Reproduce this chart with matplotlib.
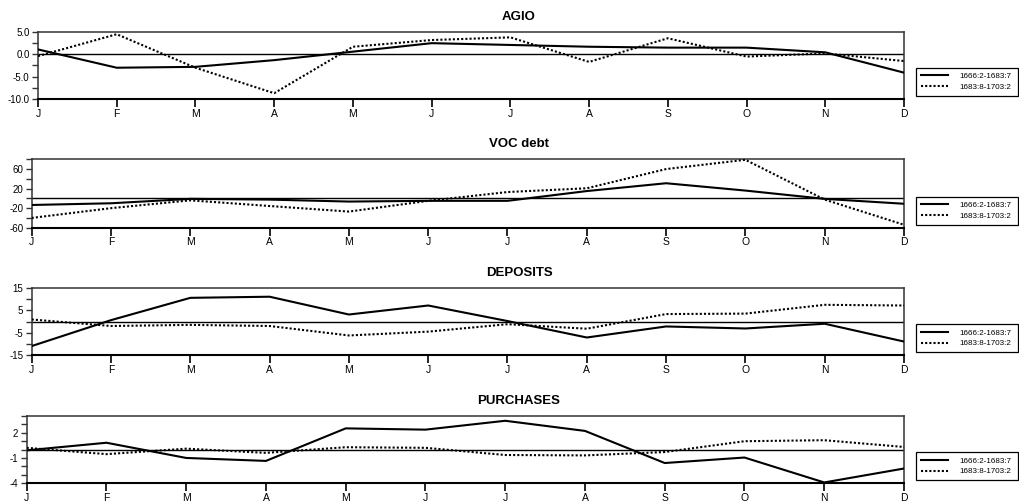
import matplotlib
matplotlib.use("Agg")
import matplotlib.pyplot as plt
from matplotlib import font_manager
from matplotlib.lines import Line2D

months = ["J", "F", "M", "A", "M", "J", "J", "A", "S", "O", "N", "D"]
series_labels = ["1666:2-1683:7", "1683:8-1703:2"]

agio_early = [1.1, -3.0, -2.8, -1.3, 0.6, 2.5, 2.1, 1.7, 1.5, 1.5, 0.45, -4.1]
agio_late = [-0.4, 4.5, -3.0, -8.7, 1.7, 3.2, 3.8, -1.7, 3.6, -0.5, 0.2, -1.5]

voc_early = [-13.5, -10, -1, -2.5, -6.5, -5, -5, 15, 31, 16, -1, -11]
voc_late = [-40, -20, -4, -15.6, -27, -5, 13, 20.7, 60, 79, -2.5, -54]

dep_early = [-10.9, 0.6, 10.5, 11.0, 3.1, 7.1, 0.2, -7.1, -2.2, -3.1, -1.0, -8.9]
dep_late = [0.9, -2.0, -1.5, -2.0, -6.2, -4.5, -1.2, -3.2, 3.3, 3.5, 7.4, 7.1]

pur_early = [-0.1, 0.8, -1.0, -1.35, 2.5, 2.35, 3.4, 2.2, -1.6, -0.95, -3.9, -2.25]
pur_late = [0.2, -0.55, 0.1, -0.4, 0.27, 0.2, -0.65, -0.7, -0.3, 0.98, 1.1, 0.3]

titles = ["AGIO", "VOC debt", "DEPOSITS", "PURCHASES"]

agio_ticks = [-10, -7.5, -5, -2.5, 0, 2.5, 5]
agio_ticklabels = ["-10.0", "", "-5.0", "", "0.0", "", "5.0"]
voc_ticks = [-60, -40, -20, 0, 20, 40, 60, 80]
voc_ticklabels = ["-60", "", "-20", "", "20", "", "60", ""]
dep_ticks = [-15, -10, -5, 0, 5, 10, 15]
dep_ticklabels = ["-15", "", "-5", "", "5", "", "15"]
pur_ticks = [-4, -3, -2, -1, 0, 1, 2, 3, 4]
pur_ticklabels = ["-4", "", "", "-1", "", "", "2", "", ""]

names = {f.name for f in font_manager.fontManager.ttflist}
fam = "Liberation Sans Narrow" if "Liberation Sans Narrow" in names else "Liberation Sans"
plt.rcParams["font.family"] = [fam, "DejaVu Sans"]

W, H = 1019, 501
fig = plt.figure(figsize=(W / 100, H / 100), dpi=100)

# pixel boxes: left, right, top, bottom
boxes = [(38, 904, 32, 99), (31.7, 904, 159.3, 227.7),
         (31.7, 904, 287.7, 355.3), (26.7, 904, 415.7, 483.3)]
data = [(agio_early, agio_late, (-10, 5), agio_ticks, agio_ticklabels),
        (voc_early, voc_late, (-60, 80), voc_ticks, voc_ticklabels),
        (dep_early, dep_late, (-15, 15), dep_ticks, dep_ticklabels),
        (pur_early, pur_late, (-4, 4), pur_ticks, pur_ticklabels)]

x = list(range(len(months)))
for (l, r, t, b), (e, lt, ylim, yt, ytl), title in zip(boxes, data, titles):
    ax = fig.add_axes([l / W, 1 - b / H, (r - l) / W, (b - t) / H])
    ax.axhline(0, color="black", lw=1.0, zorder=1)
    ax.plot(x, e, color="black", lw=1.5, solid_joinstyle="miter", zorder=3)
    ax.plot(x, lt, color="black", lw=1.5, linestyle=(0, (1, 1)), zorder=3)
    ax.set_xlim(0, 11)
    ax.set_ylim(*ylim)
    ax.set_xticks(x)
    ax.set_xticklabels(months, fontsize=7.5)
    ax.set_yticks(yt)
    ax.set_yticklabels(ytl, fontsize=7)
    ax.tick_params(axis="x", length=6, width=1.2, pad=1, color="black")
    ax.tick_params(axis="y", length=4, width=1.0, pad=2, color="#333333")
    for s in ["top", "right", "left"]:
        ax.spines[s].set_linewidth(1.1)
        ax.spines[s].set_color("#333333")
    ax.spines["bottom"].set_linewidth(1.5)
    ax.spines["bottom"].set_color("black")
    fig.text(519 / W, 1 - (t - 15) / H, title, ha="center", va="center",
             fontsize=9.5, fontweight="bold")
    handles = [Line2D([], [], color="black", lw=1.5),
               Line2D([], [], color="black", lw=1.5, linestyle=(0, (1, 1)))]
    leg = ax.legend(handles, series_labels, loc="lower left",
                    bbox_to_anchor=(916 / W, 1 - (b - 3) / H, (1018 - 916) / W, 0),
                    bbox_transform=fig.transFigure, mode="expand",
                    fancybox=False, edgecolor="black", framealpha=1,
                    fontsize=5.8, handlelength=3.4, handletextpad=1.4,
                    borderpad=0.6, labelspacing=0.4, borderaxespad=0)
    leg.get_frame().set_linewidth(0.9)

fig.savefig("out.png", dpi=100)
